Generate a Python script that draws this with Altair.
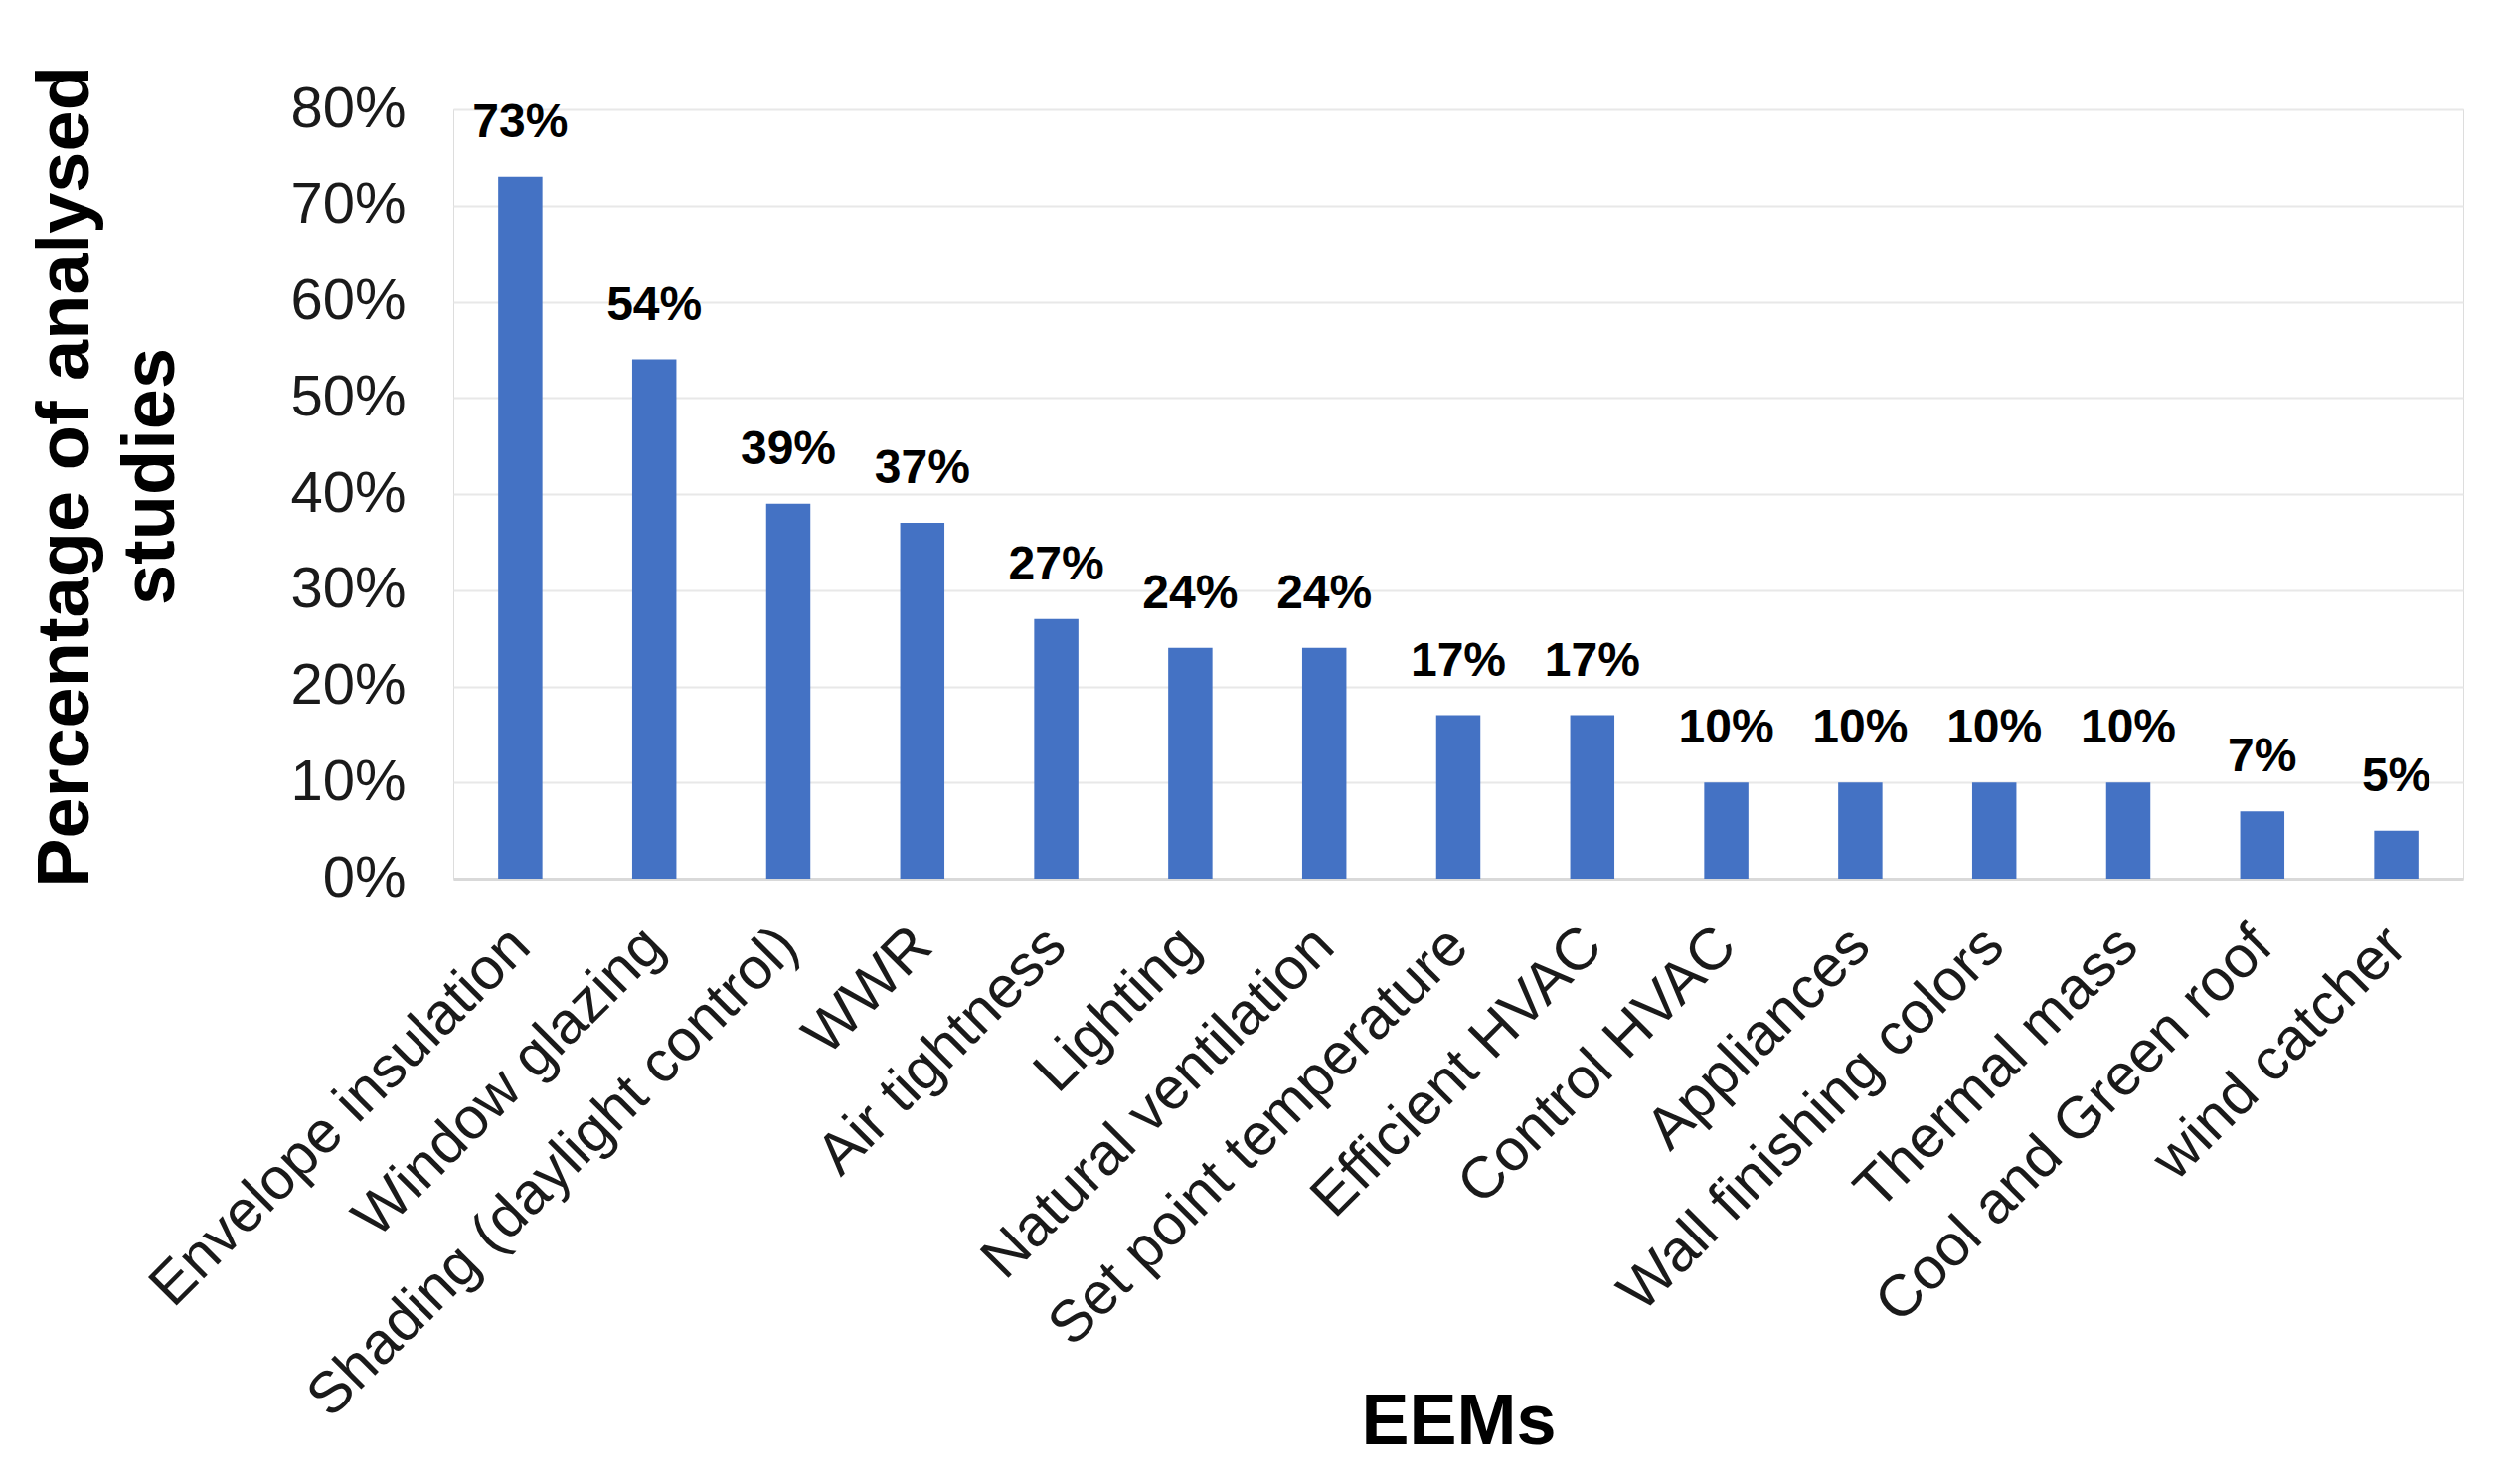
import altair as alt
import pandas as pd

categories = ["Envelope insulation", "Window glazing", "Shading (daylight control)", "WWR",
              "Air tightness", "Lighting", "Natural ventilation", "Set point temperature",
              "Efficient HVAC", "Control HVAC", "Appliances", "Wall finishing colors",
              "Thermal mass", "Cool and Green roof", "wind catcher"]
values = [0.73, 0.54, 0.39, 0.37, 0.27, 0.24, 0.24, 0.17, 0.17, 0.10, 0.10, 0.10, 0.10, 0.07, 0.05]
labels = ["73%", "54%", "39%", "37%", "27%", "24%", "24%", "17%", "17%", "10%", "10%", "10%", "10%", "7%", "5%"]

df = pd.DataFrame({"cat": categories, "val": values, "lab": labels})

FONT = "Liberation Sans"

x = alt.X("cat:N", sort=categories,
          scale=alt.Scale(paddingInner=0.67, paddingOuter=0.335),
          axis=alt.Axis(title="EEMs", labelAngle=-45, labelAlign="right", labelBaseline="middle",
                        labelFontSize=59, labelFont=FONT, labelColor="#1a1a1a", labelPadding=58,
                        labelLimit=1000, ticks=False, domain=True, domainColor="#d9d9d9",
                        domainWidth=3, titleFontSize=72, titleFont=FONT, titleFontWeight="bold",
                        titleColor="#000000", titleY=568, titleBaseline="alphabetic"))
y = alt.Y("val:Q", scale=alt.Scale(domain=[0, 0.8], nice=False),
          axis=alt.Axis(title=["Percentage of analysed", "studies"], format=".0%", values=[0, 0.1, 0.2, 0.3, 0.4, 0.5, 0.6, 0.7, 0.8],
                        labelFontSize=58, labelFont=FONT, labelColor="#1a1a1a", labelPadding=48,
                        ticks=False, domain=False, grid=True, gridColor="#e8e8e8", gridWidth=2,
                        titleFontSize=74, titleFont=FONT, titleFontWeight="bold", titleColor="#000000",
                        titleLineHeight=86, titleAngle=-90, titleX=-352, titleY=369,
                        titleAlign="center", titleBaseline="bottom"))

bars = alt.Chart(df).mark_bar(color="#4472C4").encode(x=x, y=y)
text = alt.Chart(df).mark_text(font=FONT, fontSize=48, fontWeight="bold", color="#000000",
                                baseline="alphabetic", dy=-40).encode(
    x=alt.X("cat:N", sort=categories), y="val:Q", text="lab:N")

chart = (bars + text).properties(
    width=2022, height=774,
    autosize=alt.AutoSizeParams(type="none"),
    padding={"left": 448, "top": 102, "right": 40, "bottom": 600},
).configure_view(stroke=None).configure(background="white")

chart.save("out.html", embed_options={"renderer": "svg", "actions": False})
